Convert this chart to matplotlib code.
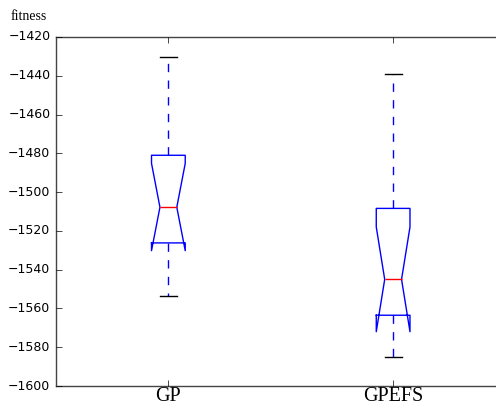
import matplotlib
matplotlib.use("Agg")
import matplotlib.pyplot as plt

plt.style.use('classic')

labels = ["GP", "GPEFS"]
medians = [-1507.8, -1545.0]
q1s = [-1526.2, -1563.5]
q3s = [-1481.0, -1508.4]
whislos = [-1553.4, -1584.9]
whishis = [-1430.3, -1439.2]
cilos = [-1530.2, -1572.0]
cihis = [-1485.2, -1518.0]

stats = []
for i in range(len(labels)):
    stats.append(dict(label=labels[i], med=medians[i], q1=q1s[i], q3=q3s[i],
                      whislo=whislos[i], whishi=whishis[i],
                      cilo=cilos[i], cihi=cihis[i], fliers=[]))

fig = plt.figure(figsize=(4.96, 4.08), dpi=100, facecolor='white')
ax = fig.add_axes([56/496, 22/408, 449.5/496, 349/408])
ax.bxp(stats, shownotches=True, showfliers=False, widths=0.15,
       boxprops=dict(color='b'), whiskerprops=dict(color='b', linestyle='--'),
       capprops=dict(color='k'), medianprops=dict(color='r'))
ax.set_xlim(0.5, 2.5)
ax.set_ylim(-1600, -1420)
ax.set_yticks(range(-1600, -1419, 20))
ax.tick_params(axis='y', labelsize=9)
ax.tick_params(axis='x', pad=1)
ax.set_xticklabels(labels, fontfamily='Liberation Serif', fontsize=14.5)
ax.set_ylabel('fitness', rotation=0, fontfamily='Liberation Serif', fontsize=10,
              ha='left', va='baseline')
ax.yaxis.set_label_coords(-0.102, 1.049)
for s in ax.spines.values():
    s.set_color('#444444')
fig.savefig('out.png', dpi=100, facecolor='white')
